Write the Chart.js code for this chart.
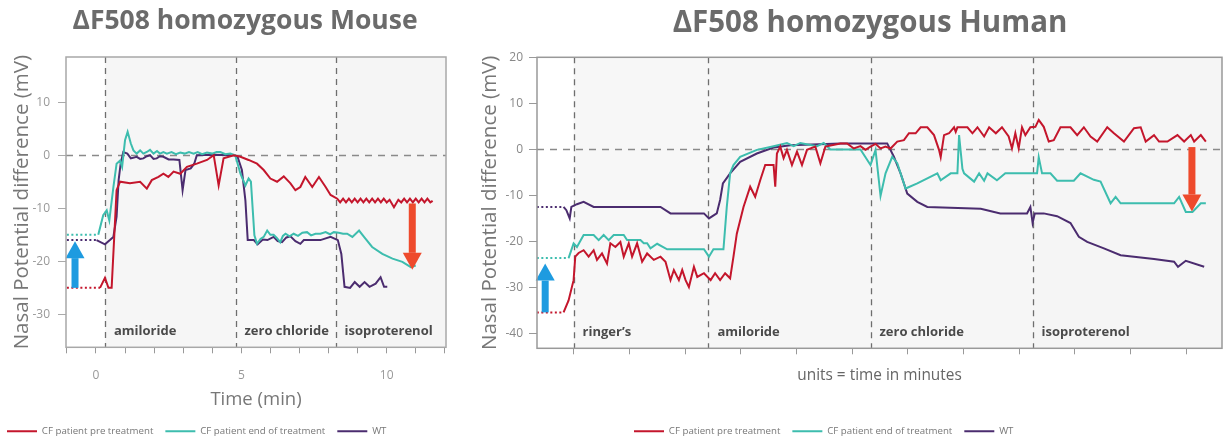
<!DOCTYPE html>
<html><head><meta charset="utf-8">
<script src="https://cdn.jsdelivr.net/npm/chart.js@4/dist/chart.umd.min.js"></script>
<style>
html,body{margin:0;padding:0;background:#fff;overflow:hidden;width:1225px;height:438px}
canvas{position:absolute;top:0}
</style></head><body>
<canvas id="mouse" width="460" height="438" style="left:0px"></canvas>
<canvas id="human" width="770" height="438" style="left:455px"></canvas>
<script>
// ---------- data ----------
const seriesNames = ['CF patient pre treatment', 'CF patient end of treatment', 'WT'];

// Mouse panel: [time (min), potential (mV)]
const mousePre = [[-1,-25],[0.14,-25],[0.31,-23.1],[0.43,-25],[0.54,-25],[0.71,-6.6],[0.83,-5.0],[1.17,-5.3],[1.52,-5],[1.75,-6.3],[1.92,-4.7],[2.15,-4.1],[2.32,-3.5],[2.49,-4.1],[2.67,-3.1],[2.9,-3.5],[3.13,-2.2],[3.47,-1.6],[3.82,-0.9],[4.05,0],[4.22,-5.7],[4.39,-0.6],[4.74,0],[4.97,-0.3],[5.25,-0.9],[5.54,-1.6],[5.77,-2.8],[6.0,-4.4],[6.23,-5],[6.46,-4],[6.69,-5.3],[6.86,-6.6],[7.03,-6],[7.2,-4.1],[7.44,-6],[7.67,-4.1],[7.9,-6],[8.07,-7.5],[8.3,-8.2],[8.4,-8.9],[8.5,-8.2],[8.6,-8.9],[8.7,-8.2],[8.8,-8.9],[8.9,-8.2],[9.0,-8.9],[9.1,-8.2],[9.2,-8.9],[9.3,-8.2],[9.4,-8.9],[9.5,-8.2],[9.6,-8.9],[9.7,-8.2],[9.8,-8.9],[9.9,-8.2],[10.0,-8.9],[10.1,-8.4],[10.25,-9.8],[10.4,-8.4],[10.5,-8.9],[10.6,-8.2],[10.7,-8.9],[10.8,-8.2],[10.9,-8.9],[11.0,-8.2],[11.1,-8.9],[11.2,-8.2],[11.3,-8.9],[11.4,-8.2],[11.5,-8.9],[11.58,-8.6]];
const mouseEnd = [[-1,-15],[0.08,-15],[0.25,-11.3],[0.37,-10.4],[0.46,-12.3],[0.6,-6],[0.71,-1.6],[0.83,-1.0],[0.9,-2.2],[1.0,2.8],[1.09,4.4],[1.2,2.2],[1.29,0.9],[1.4,0.3],[1.52,0.9],[1.63,0.3],[1.75,0.6],[1.86,1.0],[1.98,0.3],[2.1,0.8],[2.2,0.3],[2.32,0.6],[2.44,0.3],[2.6,0.6],[2.75,0.2],[2.9,0.5],[3.05,0.3],[3.2,0.6],[3.36,0.3],[3.5,0.6],[3.65,0.2],[3.82,0.5],[4.0,0.3],[4.15,0.6],[4.28,0.6],[4.45,0.2],[4.62,0.3],[4.79,0],[4.97,-3.5],[5.14,-5.7],[5.25,-4.4],[5.33,-5],[5.45,-15.1],[5.54,-16.7],[5.66,-15.8],[5.77,-15.4],[5.89,-14.2],[6.0,-15],[6.11,-15],[6.22,-15.6],[6.34,-16.4],[6.43,-15.2],[6.52,-14.8],[6.66,-15.3],[6.8,-14.8],[6.95,-15.2],[7.1,-14.6],[7.26,-14.5],[7.4,-15.1],[7.55,-14.8],[7.72,-14.8],[7.9,-14.5],[8.05,-14.9],[8.18,-14.5],[8.35,-14.6],[8.5,-14.8],[8.64,-14.8],[8.82,-15.4],[9.05,-14.2],[9.22,-15.4],[9.5,-17.3],[9.85,-18.6],[10.2,-19.5],[10.54,-20.1],[10.83,-21.1],[11.0,-20.8]];
const mouseWT = [[-1,-16],[0.02,-16],[0.31,-16.8],[0.48,-16],[0.6,-15.4],[0.71,-11.6],[0.78,-4.7],[0.85,-1.6],[0.94,0.6],[1.08,0.3],[1.2,-0.6],[1.4,-0.3],[1.52,-0.7],[1.63,-0.6],[1.75,-0.2],[1.86,0],[1.98,-0.7],[2.09,-0.6],[2.2,-0.2],[2.32,-0.3],[2.5,-0.8],[2.67,-0.8],[2.87,-0.9],[2.98,-6.6],[3.08,-2.8],[3.26,-2.5],[3.38,-1.6],[3.47,0],[4.05,0.1],[4.74,0],[4.87,-0.3],[5.02,-2.8],[5.14,-8.5],[5.22,-16],[5.43,-16],[5.56,-16.8],[5.74,-15.9],[5.9,-16],[6.11,-15.4],[6.25,-16.2],[6.4,-16.4],[6.55,-15.5],[6.69,-15.3],[6.86,-16.2],[7.03,-16.7],[7.15,-16],[7.32,-16],[7.72,-16],[8.07,-15.4],[8.32,-16],[8.44,-18.6],[8.55,-24.8],[8.74,-25],[8.9,-23.9],[9.07,-24.8],[9.24,-23.9],[9.41,-24.8],[9.62,-24.2],[9.79,-23.0],[9.91,-24.8],[10.02,-24.8]];

const mouseTimeTicks = [-1,0,1,2,3,4,5,6,7,8,9,10,11,12];
const mouseTimeLabels = [0,5,10];
const mouseMVTicks = [-30,-20,-10,0,10];
const mousePhaseStarts = [0.31, 4.8, 8.24];
const mousePhaseNames = ['amiloride', 'zero chloride', 'isoproterenol'];
const mouseArrowX = [-0.72, 10.88];
const mouseArrowFrom = [-25, -9.1];
const mouseArrowTo = [-16.2, -21.6];

// Human panel: [time unit, potential (mV)]
const humanPre = [[-0.66,-35.4],[-0.18,-35.4],[-0.09,-32.8],[0,-28.4],[0.03,-23.3],[0.09,-22.5],[0.18,-21.9],[0.27,-23.3],[0.36,-21.9],[0.42,-24],[0.51,-22.6],[0.6,-24.8],[0.66,-20.4],[0.75,-21.2],[0.84,-20.1],[0.9,-23.3],[0.99,-20.4],[1.05,-23.3],[1.14,-20.4],[1.23,-24.4],[1.32,-22.6],[1.44,-24],[1.56,-23.3],[1.65,-24.4],[1.74,-28.4],[1.8,-26.2],[1.89,-28.4],[1.95,-26.2],[2.01,-28.4],[2.07,-29.9],[2.16,-25.5],[2.22,-27.7],[2.34,-26.9],[2.46,-28.4],[2.54,-26.9],[2.63,-28.4],[2.72,-26.9],[2.81,-28],[2.87,-23.3],[2.93,-18.3],[3.05,-12.5],[3.17,-8.1],[3.26,-10.3],[3.35,-6.7],[3.44,-3.4],[3.59,-3.4],[3.62,-8.1],[3.65,-0.9],[3.71,0.6],[3.77,-1.9],[3.83,-0.1],[3.92,-3.4],[4.01,-0.5],[4.1,-3.4],[4.19,-0.1],[4.34,0.6],[4.43,-3.0],[4.52,0.6],[4.79,1.3],[4.91,1.3],[5.03,0.2],[5.15,0.7],[5.24,-0.1],[5.33,0.6],[5.42,1.2],[5.51,0.2],[5.6,0.6],[5.69,0.2],[5.81,1.7],[5.93,2.0],[6.02,3.5],[6.14,3.5],[6.23,4.8],[6.35,4.8],[6.47,3.1],[6.56,-0.1],[6.59,-1.7],[6.65,3.1],[6.74,3.5],[6.83,4.8],[6.86,3.8],[6.89,4.8],[7.07,4.8],[7.16,3.5],[7.25,4.8],[7.37,2.8],[7.46,4.8],[7.58,3.5],[7.69,4.8],[7.81,2.8],[7.87,0.2],[7.93,3.5],[7.99,0.2],[8.05,4.8],[8.11,3.1],[8.2,4.8],[8.29,4.9],[8.35,6.4],[8.44,4.9],[8.53,1.7],[8.62,2.0],[8.74,4.8],[8.92,4.8],[9.04,3.1],[9.16,4.8],[9.28,2.8],[9.4,1.7],[9.58,4.8],[9.7,3.5],[9.88,1.7],[10.06,4.6],[10.18,4.8],[10.27,1.7],[10.42,3.1],[10.51,1.7],[10.66,1.7],[10.84,3.1],[10.96,1.7],[11.08,3.1],[11.14,1.7],[11.26,3.1],[11.35,1.7]];
const humanEnd = [[-0.66,-23.6],[-0.09,-23.6],[0,-20.4],[0.06,-21.2],[0.18,-18.6],[0.36,-18.6],[0.45,-19.7],[0.54,-18.6],[0.63,-19.7],[0.72,-18.6],[0.9,-18.6],[0.96,-19.7],[1.2,-19.7],[1.26,-20.4],[1.32,-20.4],[1.38,-21.5],[1.5,-20.5],[1.68,-21.7],[2.34,-21.7],[2.43,-23.3],[2.51,-21.7],[2.69,-21.7],[2.75,-12.5],[2.81,-5.2],[2.87,-3.4],[2.99,-1.6],[3.29,-0.1],[3.59,0.7],[3.83,1.4],[3.95,0.7],[4.07,1.4],[4.37,0.7],[4.49,1.4],[4.61,0],[5.15,0],[5.33,-3.4],[5.42,-0.1],[5.51,-10.1],[5.6,-5.2],[5.72,-1.6],[5.81,-3.0],[5.96,-8.5],[6.17,-7.4],[6.53,-5.2],[6.59,-6.7],[6.77,-5.2],[6.89,-5.2],[6.92,3.1],[6.98,-4.2],[7.01,-5.2],[7.19,-7],[7.28,-5.2],[7.37,-6.8],[7.43,-5.2],[7.6,-6.7],[7.75,-5.2],[8.32,-5.2],[8.35,-1.7],[8.41,-5.2],[8.56,-5.2],[8.68,-6.8],[8.98,-6.8],[9.1,-5.2],[9.34,-6.6],[9.46,-7],[9.64,-11.7],[9.73,-10.3],[9.82,-11.7],[10.78,-11.7],[10.87,-10.3],[10.99,-13.6],[11.11,-13.6],[11.26,-11.7],[11.35,-11.7]];
const humanWT = [[-0.66,-12.5],[-0.18,-12.5],[-0.13,-13.2],[-0.07,-15],[-0.04,-12.5],[0.06,-11.9],[0.18,-11.4],[0.36,-12.5],[1.56,-12.5],[1.74,-13.9],[2.34,-13.9],[2.43,-15],[2.57,-13.9],[2.63,-11],[2.68,-7.4],[2.81,-5.2],[2.99,-2.7],[3.29,-0.9],[3.59,0.4],[3.89,0.9],[4.79,1.3],[5.63,1.3],[5.75,-1.6],[5.87,-5.2],[5.99,-9.6],[6.17,-11.4],[6.35,-12.5],[7.31,-12.9],[7.66,-13.9],[8.14,-13.9],[8.2,-12.5],[8.24,-16],[8.28,-13.9],[8.44,-13.9],[8.68,-14.5],[8.92,-16],[9.07,-19],[9.22,-20.1],[9.52,-21.5],[9.82,-23],[10.42,-23.8],[10.78,-24.4],[10.85,-25.5],[10.99,-24.2],[11.32,-25.5]];

const humanTimeTicks = [0,1,2,3,4,5,6,7,8,9,10,11];
const humanMVTicks = [-40,-30,-20,-10,0,10,20];
const humanPhaseStarts = [0, 2.42, 5.33, 8.24];
const humanPhaseNames = ['ringer\u2019s', 'amiloride', 'zero chloride', 'isoproterenol'];
const humanArrowX = [-0.51, 11.1];
const humanArrowFrom = [-35.4, 0.5];
const humanArrowTo = [-24.8, -13.5];

// ---------- style ----------
const FONT = "'Open Sans', 'Noto Sans', sans-serif";
Chart.defaults.font.family = FONT;
const lineColors = ['#c4162c', '#3dbdae', '#4b2c6f'];
const arrowColors = ['#1e9be0', '#ee4a2c'];

function toXY(pairs) { return pairs.map(([x, y]) => ({x, y})); }

function makeDatasets(series) {
  return series.map((pairs, i) => ({
    label: seriesNames[i],
    data: toXY(pairs),
    borderColor: lineColors[i],
    backgroundColor: lineColors[i],
    borderWidth: 2,
    pointRadius: 0,
    pointStyle: 'line',
    tension: 0,
    segment: { borderDash: ctx => ctx.p0DataIndex === 0 ? [2, 2.5] : undefined }
  }));
}

function makeDecor(cfg) {
  return {
    id: 'decor',
    beforeDatasetsDraw(chart) {
      const {ctx, chartArea: a, scales: {x, y}} = chart;
      ctx.save();
      cfg.starts.forEach((s, i) => {
        const x0 = x.getPixelForValue(s);
        const x1 = i + 1 < cfg.starts.length ? x.getPixelForValue(cfg.starts[i + 1]) : a.right;
        ctx.fillStyle = cfg.shades[i];
        ctx.fillRect(x0, a.top, x1 - x0, a.bottom - a.top);
      });
      // zero line
      ctx.strokeStyle = '#8a8a8a';
      ctx.lineWidth = 1.3;
      ctx.setLineDash([7, 6]);
      const y0 = Math.round(y.getPixelForValue(0)) + 0.5;
      ctx.beginPath(); ctx.moveTo(a.left, y0); ctx.lineTo(a.right, y0); ctx.stroke();
      // phase boundaries
      ctx.strokeStyle = '#6e6e6e';
      ctx.setLineDash([6, 5]);
      cfg.starts.forEach(s => {
        const px = Math.round(x.getPixelForValue(s)) + 0.5;
        ctx.beginPath(); ctx.moveTo(px, a.top); ctx.lineTo(px, a.bottom); ctx.stroke();
      });
      ctx.setLineDash([]);
      // phase labels
      ctx.fillStyle = '#4a4a4a';
      ctx.font = "bold 13px " + FONT;
      ctx.textBaseline = 'middle';
      ctx.textAlign = 'left';
      cfg.names.forEach((n, i) => {
        ctx.fillText(n, x.getPixelForValue(cfg.starts[i]) + 9, a.bottom - 16);
      });
      ctx.restore();
    },
    afterDatasetsDraw(chart) {
      const {ctx, chartArea: a, scales: {x, y}} = chart;
      ctx.save();
      cfg.arrowX.forEach((ax, i) => {
        const px = x.getPixelForValue(ax);
        const yFrom = y.getPixelForValue(cfg.arrowFrom[i]);
        const yTo = y.getPixelForValue(cfg.arrowTo[i]);
        const dir = yTo > yFrom ? 1 : -1;
        const headLen = 17, headW = 19, shaftW = 7;
        const yBase = yTo - dir * headLen;
        ctx.fillStyle = arrowColors[i];
        ctx.fillRect(px - shaftW / 2, Math.min(yFrom, yBase), shaftW, Math.abs(yBase - yFrom));
        ctx.beginPath();
        ctx.moveTo(px - headW / 2, yBase);
        ctx.lineTo(px + headW / 2, yBase);
        ctx.lineTo(px, yTo);
        ctx.closePath();
        ctx.fill();
      });
      ctx.strokeStyle = cfg.frame;
      ctx.lineWidth = 1.5;
      ctx.strokeRect(a.left, a.top, a.right - a.left, a.bottom - a.top);
      ctx.restore();
    }
  };
}

function makeNudge(titleDx, legendDx) {
  return {
    id: 'nudge',
    afterLayout(chart) {
      if (chart.titleBlock) { chart.titleBlock.left += titleDx; chart.titleBlock.right += titleDx; }
      if (chart.legend) { chart.legend.left += legendDx; chart.legend.right += legendDx; }
    }
  };
}

function legendOpts() {
  return {
    position: 'bottom', align: 'start',
    labels: {
      usePointStyle: true, pointStyle: 'line', pointStyleWidth: 30,
      padding: 12, color: '#777', font: {size: 9.7, family: FONT}
    }
  };
}

// ---------- mouse chart ----------
new Chart(document.getElementById('mouse'), {
  type: 'line',
  data: { datasets: makeDatasets([mousePre, mouseEnd, mouseWT]) },
  options: {
    responsive: false, animation: false,
    layout: { padding: {left: 0, right: 14, top: 0, bottom: -8} },
    plugins: {
      tooltip: {enabled: false},
      title: { display: true, fullSize: false, text: '\u0394F508 homozygous Mouse', color: '#6b6b6b',
        font: {size: 26.5, weight: 'bold', family: FONT}, padding: {top: 6, bottom: 19.2} },
      legend: legendOpts()
    },
    scales: {
      x: {
        type: 'linear', min: -1.03, max: 12.04,
        afterBuildTicks: s => { s.ticks = mouseTimeTicks.map(v => ({value: v})); },
        afterFit: s => { s.height = 67; },
        ticks: { autoSkip: false, maxRotation: 0, color: '#999', font: {size: 12}, padding: 15,
          callback: v => mouseTimeLabels.includes(v) ? String(v) : '' },
        grid: { drawOnChartArea: false, drawTicks: true, tickLength: 6, color: '#999' },
        border: { display: false },
        title: { display: true, text: 'Time (min)', color: '#777', font: {size: 18.5}, padding: {top: 9, bottom: 3} }
      },
      y: {
        min: -36.2, max: 18.5,
        afterBuildTicks: s => { s.ticks = mouseMVTicks.map(v => ({value: v})); },
        afterFit: s => { s.width = 66; },
        ticks: { color: '#999', font: {size: 12}, padding: 8 },
        grid: { drawOnChartArea: false, drawTicks: true, tickLength: 8, color: '#aaa' },
        border: { display: false },
        title: { display: true, text: 'Nasal Potential difference (mV)', color: '#777', font: {size: 20.5}, padding: {top: 9.7, bottom: 0} }
      }
    }
  },
  plugins: [
    makeDecor({ starts: mousePhaseStarts, names: mousePhaseNames, shades: ['#f6f6f6', '#f8f8f8', '#f5f5f5'],
      arrowX: mouseArrowX, arrowFrom: mouseArrowFrom, arrowTo: mouseArrowTo, frame: '#a8a8a8' }),
    makeNudge(-11, -5)
  ]
});

// ---------- human chart ----------
new Chart(document.getElementById('human'), {
  type: 'line',
  data: { datasets: makeDatasets([humanPre, humanEnd, humanWT]) },
  options: {
    responsive: false, animation: false,
    layout: { padding: {left: 0, right: 3, top: 0, bottom: -8} },
    plugins: {
      tooltip: {enabled: false},
      title: { display: true, fullSize: false, text: '\u0394F508 homozygous Human', color: '#6b6b6b',
        font: {size: 29.5, weight: 'bold', family: FONT}, padding: {top: 6.3, bottom: 15.6} },
      legend: legendOpts()
    },
    scales: {
      x: {
        type: 'linear', min: -0.657, max: 11.64,
        afterBuildTicks: s => { s.ticks = humanTimeTicks.map(v => ({value: v})); },
        afterFit: s => { s.height = 66; },
        ticks: { display: false },
        grid: { drawOnChartArea: false, drawTicks: true, tickLength: 6, color: '#999' },
        border: { display: false },
        title: { display: true, text: 'units = time in minutes', color: '#666', font: {size: 15.4}, padding: {top: 0, bottom: 29.8} }
      },
      y: {
        min: -43.2, max: 20,
        afterBuildTicks: s => { s.ticks = humanMVTicks.map(v => ({value: v})); },
        afterFit: s => { s.width = 82; },
        ticks: { color: '#888', font: {size: 12}, padding: 6 },
        grid: { drawOnChartArea: false, drawTicks: true, tickLength: 8, color: '#999' },
        border: { display: false },
        title: { display: true, text: 'Nasal Potential difference (mV)', color: '#777', font: {size: 20.5}, padding: {top: 22.7, bottom: 0} }
      }
    }
  },
  plugins: [
    makeDecor({ starts: humanPhaseStarts, names: humanPhaseNames, shades: ['#f7f7f7', '#f6f6f6', '#f6f6f6', '#f5f5f5'],
      arrowX: humanArrowX, arrowFrom: humanArrowFrom, arrowTo: humanArrowTo, frame: '#999' }),
    makeNudge(-9.5, 167)
  ]
});
</script>
</body></html>
